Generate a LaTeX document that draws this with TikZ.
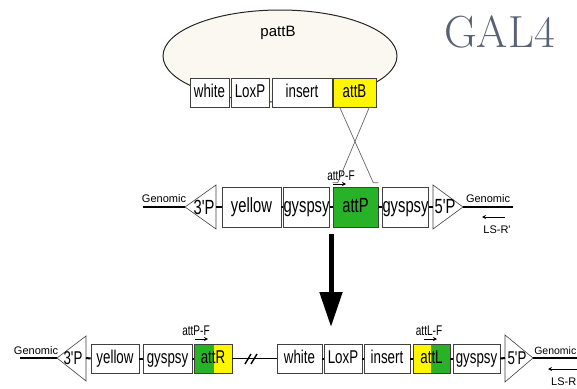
\documentclass[tikz,border=0pt]{standalone}
\usepackage{fontspec}
\newfontfamily\cond[FakeStretch=0.72]{Liberation Sans}
\newfontfamily\plain{Liberation Sans}
\usetikzlibrary{arrows.meta,calc}
\definecolor{attyel}{RGB}{255,246,0}
\definecolor{attgrn}{RGB}{40,178,40}
\definecolor{loopfill}{RGB}{250,248,240}
\definecolor{galgray}{RGB}{88,98,118}
\tikzset{
  seg/.style={draw=black!75, line width=0.6pt, fill=white, inner sep=0pt,
    minimum height=29pt, text height=13pt, text depth=4pt,
    font=\cond\fontsize{18.5}{18.5}\selectfont},
  bigseg/.style={seg, minimum height=40pt, text height=14.5pt, text depth=4.5pt,
    font=\cond\fontsize{20.5}{20.5}\selectfont},
  halves/.style n args={3}{path picture={
    \fill[#1] (path picture bounding box.south west) rectangle
      ($(path picture bounding box.north west)!#3!(path picture bounding box.north east)$);
    \fill[#2] ($(path picture bounding box.south west)!#3!(path picture bounding box.south east)$)
      rectangle (path picture bounding box.north east);}},
  tri/.style={draw=black!75, line width=0.6pt, fill=white},
  trilbl/.style={inner sep=0pt, font=\cond\fontsize{18.5}{18.5}\selectfont},
  note/.style={inner sep=0pt, font=\plain\fontsize{11}{11}\selectfont},
  plbl/.style={inner sep=0pt, font=\cond\fontsize{14}{14}\selectfont},
  conn/.style={line width=2pt},
  genline/.style={line width=2.2pt},
  primer/.style={line width=0.8pt, -{Stealth[length=4pt,width=4pt]}},
  xline/.style={draw=black!60, line width=0.7pt}
}
\begin{document}
\begin{tikzpicture}[x=1pt,y=-1pt]
    \useasboundingbox (0,0) rectangle (577,388);

    % Title
    \node[inner sep=0pt, text=galgray, font=\fontsize{45}{45}\selectfont] (gal) at (499.5,32) {GAL4};

    % Plasmid pattB
    \draw[draw=black!85, line width=1pt, fill=loopfill] (280,56) ellipse [x radius=117, y radius=46];
    \node[font=\plain\fontsize{15}{15}\selectfont, inner sep=0pt] (plabel) at (278,33) {pattB};
    \foreach \name/\x/\w/\txt in {whiteT/209.5/39/white, loxT/250/38/LoxP, insT/302/60/insert} {
        \node[seg, minimum width=\w] (\name) at (\x,92.5) {\txt};
    }
    \node[seg, fill=attyel, minimum width=43] (attB) at (354.5,92.5) {attB};

    % Landing site
    \foreach \name/\x/\w/\txt in {yelM/251.5/59/yellow, gypM1/306.5/45/gyspsy, gypM2/405.5/45/gyspsy} {
        \node[bigseg, minimum width=\w] (\name) at (\x,207) {\txt};
    }
    \node[bigseg, fill=attgrn, minimum width=45] (attP) at (355.5,207) {attP};

    % 3'P and 5'P ends, middle row
    \draw[tri] (185,207) -- (216,185) -- (216,229) -- cycle;
    \coordinate (apxM3) at (185,207);
    \coordinate (baseM3) at (216,207);
    \node[trilbl, font=\cond\fontsize{20.5}{20.5}\selectfont] (pM3) at (204,207) {3'P};
    \draw[tri] (463,207) -- (433,185) -- (433,229) -- cycle;
    \coordinate (apxM5) at (463,207);
    \coordinate (baseM5) at (433,207);
    \node[trilbl, font=\cond\fontsize{20.5}{20.5}\selectfont] (pM5) at (445,207) {5'P};

    % Connectors, middle row
    \foreach \a/\b in {baseM3/yelM, yelM/gypM1, gypM1/attP, attP/gypM2, gypM2/baseM5} {
        \draw[conn] (\a.east) -- (\b.west);
    }

    % Genomic flanks, middle row
    \coordinate (genML) at (143,207);
    \coordinate (genMR) at (513,207);
    \draw[genline] (genML) -- (apxM3);
    \draw[genline] (apxM5) -- (genMR);
    \node[note, anchor=south] (gtxtML) at (164,203) {Genomic};
    \node[note, anchor=south] (gtxtMR) at (488,203) {Genomic};
    \coordinate (lsMa) at (505,217);
    \coordinate (lsMb) at (482,217);
    \draw[primer] (lsMa) -- (lsMb);
    \node[note] (lsM) at (497,230) {LS-R'};
    \coordinate (fMa) at (333,184);
    \coordinate (fMb) at (346,184);
    \draw[primer] (fMa) -- (fMb);
    \node[plbl] (fM) at (341,176) {attP-F};

    % Crossover between attB and attP
    \draw[xline] ($(attB.south west)+(3,0)$) -- ++(4,0) -- ($(attP.north east)+(-5,-4)$) -- ++(5,0);
    \draw[xline] ($(attB.south east)+(-3,0)$) -- ++(-4,0) -- ($(attP.north west)+(5,-4)$) -- ++(-5,0);

    % Integration arrow
    \coordinate (arrTop) at (331,234);
    \coordinate (arrTip) at (331,327);
    \draw[line width=5pt, -{Triangle[width=22pt,length=35pt]}] (arrTop) -- (arrTip);

    % Integrated construct
    \foreach \name/\x/\w/\txt in {yelB/115/48/yellow, gypB1/167.5/49/gyspsy, whiteB/299.5/45/white,
                                  loxB/343/38/LoxP, insB/387/46/insert, gypB2/476.5/47/gyspsy} {
        \node[seg, minimum width=\w] (\name) at (\x,358.5) {\txt};
    }
    \node[seg, halves={attgrn}{attyel}{0.53}, minimum width=38] (attR) at (213,358.5) {attR};
    \node[seg, halves={attyel}{attgrn}{0.49}, minimum width=37] (attL) at (431.5,358.5) {attL};

    % 3'P and 5'P ends, bottom row
    \draw[tri] (57,358) -- (86,336) -- (86,381) -- cycle;
    \coordinate (apxB3) at (57,358);
    \coordinate (baseB3) at (86,358);
    \node[trilbl] (pB3) at (73,358) {3'P};
    \draw[tri] (533,358) -- (505,335) -- (505,382) -- cycle;
    \coordinate (apxB5) at (533,358);
    \coordinate (baseB5) at (505,358);
    \node[trilbl] (pB5) at (517,358) {5'P};

    % Connectors, bottom row
    \foreach \a/\b in {baseB3/yelB, yelB/gypB1, gypB1/attR, whiteB/loxB, loxB/insB, insB/attL, attL/gypB2, gypB2/baseB5} {
        \draw[conn] (\a.east) -- (\b.west);
    }
    \draw[line width=1.4pt] (attR.east) -- (whiteB.west);
    \coordinate (brk) at (248,359);
    \foreach \dx in {0,6} {
        \draw[line width=1.4pt] ($(brk)+(\dx-3,5)$) -- ($(brk)+(\dx+3,-5)$);
    }

    % Genomic flanks, bottom row
    \coordinate (genBL) at (20,358);
    \coordinate (genBR) at (577,358);
    \draw[genline] (genBL) -- (apxB3);
    \draw[genline] (apxB5) -- (genBR);
    \node[note, anchor=south] (gtxtBL) at (36,355) {Genomic};
    \node[note, anchor=south east, font=\plain\fontsize{10.5}{10.5}\selectfont] (gtxtBR) at (576.5,355) {Genomic};
    \coordinate (lsBa) at (577,369);
    \coordinate (lsBb) at (548,369);
    \draw[primer] (lsBa) -- (lsBb);
    \node[note, anchor=east] (lsB) at (576.5,382) {LS-R};
    \coordinate (fBa) at (195,339);
    \coordinate (fBb) at (208,339);
    \draw[primer] (fBa) -- (fBb);
    \node[plbl] (fB) at (196,331) {attP-F};
    \coordinate (lBa) at (424,339);
    \coordinate (lBb) at (437,339);
    \draw[primer] (lBa) -- (lBb);
    \node[plbl] (lB) at (429,331) {attL-F};
\end{tikzpicture}
\end{document}
